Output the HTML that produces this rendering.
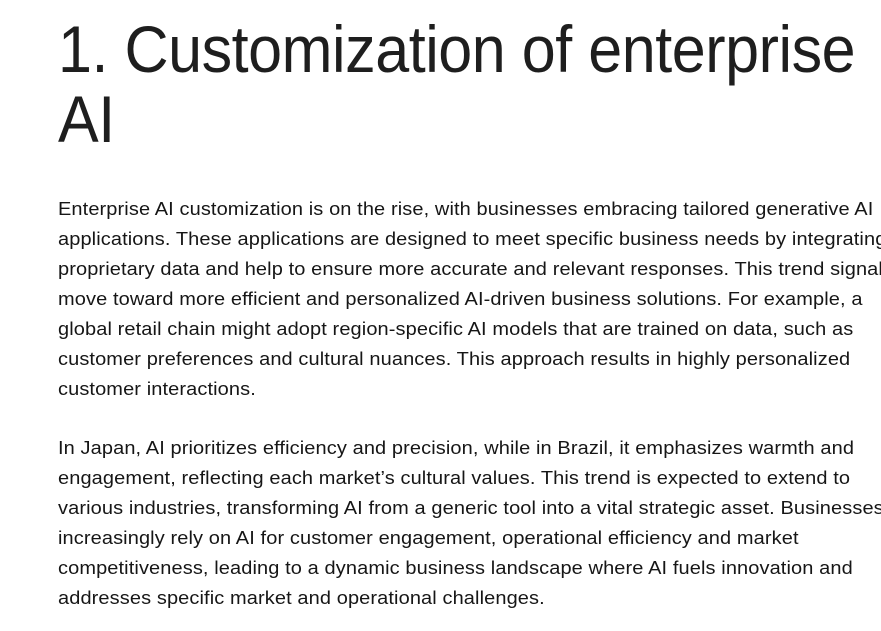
<!DOCTYPE html>
<html><head><meta charset="utf-8"><style>
html,body{margin:0;padding:0;background:#fff;width:881px;height:631px;overflow:hidden;position:relative}
.t{position:absolute;left:58px;font-family:"Liberation Sans",sans-serif;font-weight:300;font-size:66px;color:#1e1e1e;white-space:nowrap;letter-spacing:-0.5px;line-height:70px;transform:scaleX(0.925);transform-origin:0 0}
.p{position:absolute;left:58px;font-family:"Liberation Sans",sans-serif;font-size:18px;color:#161616;white-space:nowrap;line-height:30px;letter-spacing:0.1px;transform:scaleX(1.11);transform-origin:0 0}
</style></head><body>
<div class="t" style="top:14px">1. Customization of enterprise</div>
<div class="t" style="top:84px">AI</div>
<div class="p" style="top:194px">Enterprise AI customization is on the rise, with businesses embracing tailored generative AI<br>applications. These applications are designed to meet specific business needs by integrating<br>proprietary data and help to ensure more accurate and relevant responses. This trend signals a<br>move toward more efficient and personalized AI-driven business solutions. For example, a<br>global retail chain might adopt region-specific AI models that are trained on data, such as<br>customer preferences and cultural nuances. This approach results in highly personalized<br>customer interactions.</div>
<div class="p" style="top:433px">In Japan, AI prioritizes efficiency and precision, while in Brazil, it emphasizes warmth and<br>engagement, reflecting each market’s cultural values. This trend is expected to extend to<br>various industries, transforming AI from a generic tool into a vital strategic asset. Businesses<br>increasingly rely on AI for customer engagement, operational efficiency and market<br>competitiveness, leading to a dynamic business landscape where AI fuels innovation and<br>addresses specific market and operational challenges.</div>
</body></html>
